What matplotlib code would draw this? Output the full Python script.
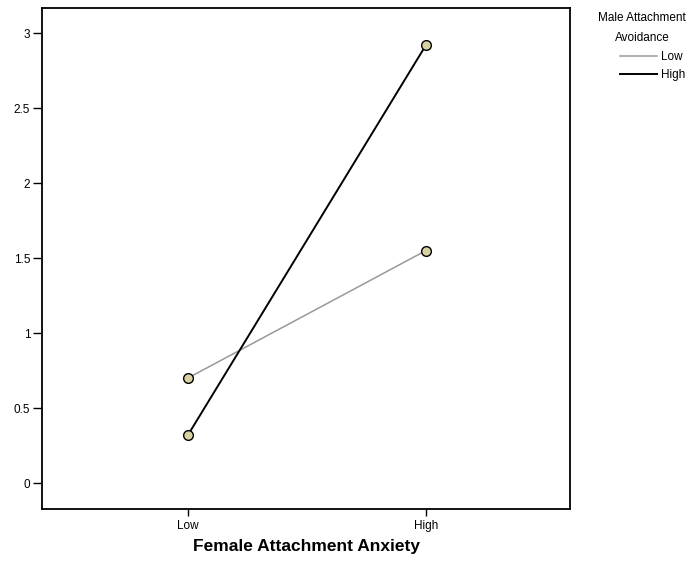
import matplotlib
matplotlib.use('Agg')
import matplotlib.pyplot as plt
from matplotlib.lines import Line2D

# ── Data ───────────────────────────────────────────────────────────────────────

categories = ['Low', 'High']                     # Female Attachment Anxiety
series_names = ['Low', 'High']                   # Male Attachment Avoidance
low_avoidance = [0.70, 1.55]
high_avoidance = [0.32, 2.92]
y_ticks = [0, 0.5, 1, 1.5, 2, 2.5, 3]
y_tick_labels = ['0', '0.5', '1', '1.5', '2', '2.5', '3']

LOW_COL, HIGH_COL = '#999999', 'black'

plt.rcParams['font.family'] = ['Liberation Sans', 'DejaVu Sans']

fig = plt.figure(figsize=(6.92, 5.63), dpi=100)
ax = fig.add_axes([0.0607, 0.0959, 0.7630, 0.8899])

x = range(len(categories))
marker_kw = dict(marker='o', markersize=7, markerfacecolor='#d8d2a2',
                 markeredgecolor='black', markeredgewidth=1.0)
ax.plot(x, low_avoidance, color=LOW_COL, linewidth=1.1, **marker_kw)
ax.plot(x, high_avoidance, color=HIGH_COL, linewidth=1.4, **marker_kw)

ax.set_xlim(-0.613, 1.605)
ax.set_ylim(-0.173, 3.167)
ax.set_xticks(list(x))
ax.set_xticklabels(categories, fontsize=8.5)
ax.set_yticks(y_ticks)
ax.set_yticklabels(y_tick_labels, fontsize=8.5)
ax.tick_params(axis='y', direction='out', length=6.5, width=1.0, pad=2,
               colors='black')
ax.tick_params(axis='x', direction='out', length=5, width=1.0, pad=3,
               colors='black')

for sp in ax.spines.values():
    sp.set_linewidth(1.3)

ax.set_xlabel('Female Attachment Anxiety', fontsize=12.5, fontweight='bold',
              labelpad=5)

# legend: title as plain text, entries as line handles only
fig.text(642 / 692, 1 - 28 / 563, 'Male Attachment\nAvoidance',
         ha='center', va='center', multialignment='center',
         fontsize=8.5, linespacing=1.95)
handles = [Line2D([], [], color=LOW_COL, linewidth=1.1),
           Line2D([], [], color=HIGH_COL, linewidth=1.4)]
fig.legend(handles, series_names, loc='upper left',
           bbox_to_anchor=(620 / 692, 1 - 51 / 563),
           frameon=False, fontsize=8.5,
           handlelength=3.1, handletextpad=0.4, labelspacing=0.5,
           borderpad=0, borderaxespad=0)

fig.savefig('out.png', dpi=100)
